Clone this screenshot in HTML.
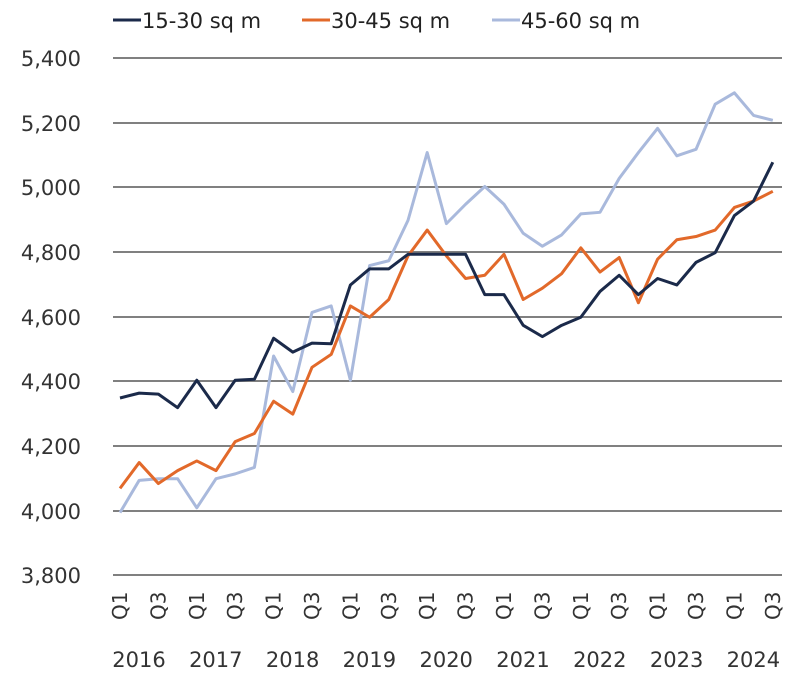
<!DOCTYPE html>
<html><head><meta charset="utf-8"><style>body{margin:0;background:#fff}</style></head><body>
<svg width="792" height="670" xmlns="http://www.w3.org/2000/svg" font-family="DejaVu Sans, sans-serif" fill="#333">
<g stroke="#808080" stroke-width="2">
<line x1="113" x2="782" y1="58" y2="58"/><line x1="113" x2="782" y1="123" y2="123"/><line x1="113" x2="782" y1="187" y2="187"/><line x1="113" x2="782" y1="252" y2="252"/><line x1="113" x2="782" y1="317" y2="317"/><line x1="113" x2="782" y1="381" y2="381"/><line x1="113" x2="782" y1="446" y2="446"/><line x1="113" x2="782" y1="511" y2="511"/><line x1="113" x2="782" y1="575" y2="575"/>
</g>
<g font-size="21" text-anchor="end">
<text x="81" y="66">5,400</text><text x="81" y="131">5,200</text><text x="81" y="195">5,000</text><text x="81" y="260">4,800</text><text x="81" y="325">4,600</text><text x="81" y="389">4,400</text><text x="81" y="454">4,200</text><text x="81" y="519">4,000</text><text x="81" y="583">3,800</text>
</g>
<g font-size="21" fill="#222">
<line x1="113" x2="141" y1="20" y2="20" stroke="#1b2a4a" stroke-width="3"/><text x="142" y="28">15-30 sq m</text>
<line x1="302" x2="330" y1="20" y2="20" stroke="#e2692a" stroke-width="3"/><text x="331" y="28">30-45 sq m</text>
<line x1="492" x2="520" y1="20" y2="20" stroke="#a9b9dc" stroke-width="3"/><text x="521" y="28">45-60 sq m</text>
</g>
<g id="xt" font-size="20" fill="#333"></g>
<g id="yr" font-size="21" text-anchor="middle"></g>
<g id="ln" fill="none" stroke-width="3" stroke-linejoin="round"></g>
<script>
var ns="http://www.w3.org/2000/svg";
function X(i){return 120+i*19.2}
function Y(v){return 511-(v-4000)*0.3229}
var d=[["#a9b9dc",[3995,4095,4100,4100,4010,4100,4115,4135,4480,4370,4615,4635,4405,4760,4775,4900,5110,4890,4950,5005,4950,4860,4820,4855,4920,4925,5030,5110,5185,5100,5120,5260,5295,5225,5210]],
["#e2692a",[4070,4150,4085,4125,4155,4125,4215,4240,4340,4300,4445,4485,4635,4600,4655,4790,4870,4790,4720,4730,4795,4655,4690,4735,4815,4740,4785,4645,4780,4840,4850,4870,4940,4960,4990]],
["#1b2a4a",[4350,4365,4362,4320,4405,4320,4405,4408,4535,4492,4520,4518,4700,4750,4750,4795,4795,4795,4795,4670,4670,4575,4540,4575,4600,4680,4730,4670,4720,4700,4770,4800,4915,4960,5080]]];
var ln=document.getElementById("ln");
d.forEach(function(s){var p=document.createElementNS(ns,"polyline");p.setAttribute("stroke",s[0]);p.setAttribute("points",s[1].map(function(v,i){return X(i)+","+Y(v)}).join(" "));ln.appendChild(p);});
var xt=document.getElementById("xt");
for(var i=0;i<35;i+=2){var t=document.createElementNS(ns,"text");var x=X(i)+7;t.setAttribute("transform","translate("+x+",620) rotate(-90)");t.textContent=(i%4==0)?"Q1":"Q3";xt.appendChild(t);}
var yr=document.getElementById("yr");
for(var k=0;k<9;k++){var t=document.createElementNS(ns,"text");t.setAttribute("x",X(k*4)+19);t.setAttribute("y",667);t.textContent=2016+k;yr.appendChild(t);}
</script>
</svg>
</body></html>
